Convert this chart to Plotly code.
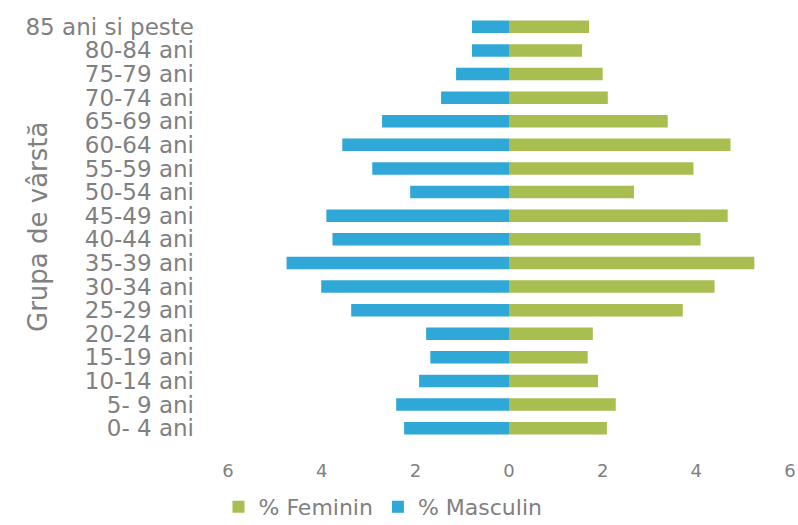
import plotly.graph_objects as go

categories = ["0- 4 ani", "5- 9 ani", "10-14 ani", "15-19 ani", "20-24 ani", "25-29 ani",
              "30-34 ani", "35-39 ani", "40-44 ani", "45-49 ani", "50-54 ani", "55-59 ani",
              "60-64 ani", "65-69 ani", "70-74 ani", "75-79 ani", "80-84 ani", "85 ani si peste"]
feminin = [2.09, 2.28, 1.90, 1.68, 1.79, 3.71, 4.39, 5.24, 4.09, 4.67, 2.67, 3.94,
           4.73, 3.39, 2.11, 2.00, 1.56, 1.71]
masculin = [2.24, 2.41, 1.92, 1.68, 1.77, 3.37, 4.01, 4.75, 3.77, 3.90, 2.11, 2.92,
            3.56, 2.71, 1.45, 1.13, 0.79, 0.79]
tick_vals = [-6, -4, -2, 0, 2, 4, 6]
tick_text = ["6", "4", "2", "0", "2", "4", "6"]

GREEN = "#A8BE50"
BLUE = "#2FA8D8"
TXT = "#808080"
FONT = "DejaVu Sans"

W, H = 798, 525
L, R, T, B = 228, 8, 15, 85
PW, PH = W - L - R, H - T - B

fig = go.Figure()
fig.add_trace(go.Bar(y=categories, x=feminin, orientation="h", name="% Feminin",
                     marker=dict(color=GREEN, line=dict(width=0))))
fig.add_trace(go.Bar(y=categories, x=[-v for v in masculin], orientation="h", name="% Masculin",
                     marker=dict(color=BLUE, line=dict(width=0))))

fig.update_layout(
    width=W, height=H,
    margin=dict(l=L, r=R, t=T, b=B, autoexpand=False),
    paper_bgcolor="white", plot_bgcolor="white",
    barmode="relative", bargap=0.47,
    font=dict(family=FONT, color=TXT, size=19),
    showlegend=True,
    legend=dict(orientation="h", x=(383 - L) / PW, xanchor="center",
                y=(T + PH - 507) / PH, yanchor="middle",
                font=dict(size=22, color=TXT), traceorder="normal"),
    xaxis=dict(range=[-6.001, 6.001], tickvals=tick_vals, ticktext=tick_text, showgrid=False,
               zeroline=True, zerolinecolor="white", zerolinewidth=4, layer="above traces",
               showline=False, ticks="", ticklabelstandoff=18, ticklabeloverflow="allow",
               tickfont=dict(size=18, color=TXT), fixedrange=True, automargin=False),
    yaxis=dict(categoryorder="array", categoryarray=categories, showgrid=False,
               tickmode="linear", dtick=1,
               zeroline=False, showline=False, ticks="", ticklabelstandoff=33,
               ticklabeloverflow="allow", automargin=False,
               tickfont=dict(size=23, color=TXT)),
    annotations=[dict(text="Grupa de vârstă", xref="paper", yref="paper",
                      x=(38 - L) / PW, y=(T + PH - 227) / PH, xanchor="center", yanchor="middle",
                      textangle=-90, showarrow=False, font=dict(size=26, color=TXT))],
)

fig.write_html("out.html", config={"displayModeBar": False},
               post_script="document.body.style.margin='0';document.body.style.overflow='hidden';")
